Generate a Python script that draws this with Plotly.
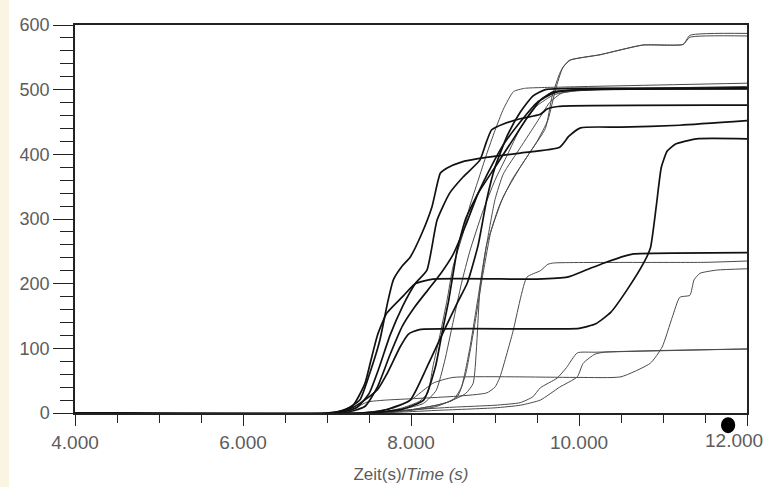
import plotly.graph_objects as go

# Cumulative counts over time, one curve per run (time in s, count)
p1_t = [4, 7.0, 7.2, 7.39, 7.51, 7.63, 7.72, 7.79, 7.9, 7.99, 8.13, 8.25, 8.35, 8.43, 8.6, 8.83, 9.3, 9.77, 9.88, 10.02, 10.5, 11.2, 12]
p1_v = [0, 0, 4, 20, 62, 113, 170, 206, 228, 241, 278, 319, 371, 379, 388, 394, 402, 411, 428, 441, 442, 445, 452]

p2_t = [4, 7.1, 7.35, 7.5, 7.62, 7.75, 7.9, 8.05, 8.19, 8.31, 8.46, 8.62, 8.82, 8.9, 8.96, 9.1, 9.3, 9.54, 9.62, 9.75, 12]
p2_v = [0, 0, 8, 30, 70, 120, 165, 200, 221, 298, 340, 365, 391, 420, 438, 447, 455, 462, 470, 474, 476]

k_t = [4, 7.05, 7.3, 7.45, 7.52, 7.6, 7.71, 7.9, 8.05, 8.26, 9.5, 9.86, 10.1, 10.3, 10.55, 10.65, 12]
k_v = [0, 0, 10, 45, 80, 120, 154, 180, 200, 207, 207, 210, 222, 232, 243, 246, 248]

o_t = [4, 7.1, 7.3, 7.5, 7.6, 7.72, 7.87, 7.97, 8.1, 9.5, 10.0, 10.2, 10.38, 10.57, 10.77, 10.85, 10.92, 10.98, 11.05, 11.15, 11.4, 12]
o_v = [0, 0, 8, 25, 36, 62, 102, 122, 129, 130, 131, 138, 156, 190, 232, 255, 320, 380, 405, 416, 424, 424]

r_t = [4, 7.4, 7.7, 7.99, 8.19, 8.38, 8.55, 8.67, 8.8, 8.9, 9.0, 9.15, 9.3, 9.45, 9.6, 10.0, 12]
r_v = [0, 0, 5, 20, 71, 124, 170, 201, 260, 329, 380, 430, 465, 490, 500, 502, 503]

s_t = [4, 7.5, 7.9, 8.15, 8.29, 8.37, 8.45, 8.55, 8.65, 8.8, 9.0, 9.2, 9.4, 9.55, 9.7, 10.0, 12]
s_v = [0, 0, 6, 20, 71, 124, 175, 252, 300, 340, 380, 420, 460, 485, 497, 500, 502]

w_t = [4, 7.2, 7.45, 7.6, 7.75, 7.9, 8.05, 8.2, 8.35, 8.5, 8.65, 8.8, 8.95, 9.1, 9.3, 9.5, 9.7, 10.0, 12]
w_v = [0, 0, 10, 40, 90, 135, 165, 190, 215, 245, 290, 340, 380, 415, 450, 480, 495, 500, 501]

q1_t = [4, 7.6, 7.9, 8.1, 8.2, 8.26, 8.35, 8.43, 8.5, 8.62, 8.7, 8.8, 8.9, 9.0, 9.1, 9.22, 9.35, 9.8, 12]
q1_v = [0, 0, 8, 18, 31, 71, 124, 175, 226, 278, 320, 360, 400, 437, 470, 497, 502, 504, 510]

q2_t = [4, 7.5, 7.9, 8.15, 8.3, 8.4, 8.5, 8.6, 8.7, 8.85, 9.0, 9.15, 9.3, 9.5, 9.7, 10.0, 12]
q2_v = [0, 0, 6, 15, 35, 80, 140, 200, 250, 310, 360, 400, 440, 475, 492, 499, 502]

t_t = [4, 7.6, 8.0, 8.4, 8.65, 8.74, 8.82, 8.9, 9.0, 9.1, 9.3, 9.5, 9.65, 9.8, 10.2, 12]
t_v = [0, 0, 5, 15, 30, 46, 190, 260, 330, 370, 410, 450, 480, 495, 500, 505]

u_t = [4, 7.5, 8.0, 8.3, 8.5, 8.6, 8.7, 8.8, 8.9, 9.0, 9.1, 9.3, 9.5, 9.63, 9.72, 9.81, 9.9, 10.25, 10.76, 11.24, 11.32, 12]
u_v = [0, 0, 5, 12, 20, 40, 100, 180, 260, 300, 335, 380, 420, 453, 500, 535, 546, 554, 569, 570, 581, 583]

v_t = [4, 7.5, 8.0, 8.3, 8.55, 8.65, 8.75, 8.85, 8.95, 9.05, 9.2, 9.4, 9.6, 9.68, 9.78, 9.88, 10.25, 10.76, 11.24, 11.32, 12]
v_v = [0, 0, 4, 10, 25, 60, 130, 210, 280, 320, 360, 400, 440, 490, 528, 545, 554, 569, 570, 584, 587]

l_t = [4, 7.2, 7.48, 7.7, 8.0, 8.55, 8.9, 9.0, 9.06, 9.21, 9.38, 9.54, 9.63, 9.7, 11.5, 12]
l_v = [0, 0, 17, 20, 22, 26, 31, 40, 56, 124, 210, 220, 230, 232, 233, 235]

m_t = [4, 7.4, 7.8, 8.0, 8.26, 8.5, 10.0, 10.5, 10.85, 10.99, 11.11, 11.2, 11.32, 11.37, 11.44, 11.64, 12]
m_v = [0, 0, 8, 20, 46, 55, 55, 56, 77, 102, 148, 179, 182, 206, 216, 221, 223]

n1_t = [4, 7.5, 8.0, 8.5, 9.0, 9.3, 9.45, 9.54, 9.74, 9.85, 9.98, 10.2, 12]
n1_v = [0, 0, 5, 9, 12, 16, 25, 39, 54, 70, 93, 94, 99]

n2_t = [4, 7.6, 8.3, 9.0, 9.3, 9.54, 9.77, 9.98, 10.05, 10.19, 10.3, 12]
n2_v = [0, 0, 4, 8, 12, 20, 40, 56, 77, 91, 94, 99]

# heavy runs drawn black and thicker, light runs in thin grey
heavy = [(p1_t, p1_v), (p2_t, p2_v), (k_t, k_v), (o_t, o_v), (r_t, r_v),
         (s_t, s_v), (w_t, w_v)]
light = [(q1_t, q1_v), (q2_t, q2_v), (t_t, t_v), (u_t, u_v), (v_t, v_v),
         (l_t, l_v), (m_t, m_v), (n1_t, n1_v), (n2_t, n2_v)]

x_tick_vals = [4, 6, 8, 10, 12]
x_tick_text = ["4.000", "6.000", "8.000", "10.000", ""]
x_last_label = "12.000"
y_tick_vals = [0, 100, 200, 300, 400, 500, 600]
y_tick_text = ["0", "100", "200", "300", "400", "500", "600"]

FONT = "Liberation Sans, Arial, sans-serif"
TEXT_GREY = "#5c5c5c"

fig = go.Figure()

for tt, vv in light:
    fig.add_trace(go.Scatter(x=tt, y=vv, mode="lines",
                             line=dict(color="#4a4a4a", width=1, shape="spline", smoothing=0.5),
                             hoverinfo="skip", showlegend=False))
for tt, vv in heavy:
    fig.add_trace(go.Scatter(x=tt, y=vv, mode="lines",
                             line=dict(color="#111111", width=1.7, shape="spline", smoothing=0.5),
                             hoverinfo="skip", showlegend=False))

fig.update_layout(
    width=765, height=487,
    margin=dict(l=75, r=18, t=25, b=74, autoexpand=False),
    paper_bgcolor="#ffffff", plot_bgcolor="#ffffff",
    xaxis=dict(
        range=[4, 12], showgrid=False, zeroline=False, automargin=False,
        tickmode="array", tickvals=x_tick_vals, ticktext=x_tick_text,
        ticks="outside", ticklen=11, tickwidth=1.2, tickcolor="#222222",
        minor=dict(dtick=0.5, ticks="outside", ticklen=8, tickwidth=1.2, tickcolor="#222222"),
        tickfont=dict(family=FONT, size=19, color=TEXT_GREY),
        ticklabelstandoff=0,
        showline=True, linecolor="#222222", linewidth=1.5, mirror=True,
        title=dict(text="Zeit(s)/<i>Time (s)</i>", standoff=17,
                   font=dict(family=FONT, size=17, color=TEXT_GREY)),
    ),
    yaxis=dict(
        range=[0, 600], showgrid=False, zeroline=False, automargin=False,
        tickmode="array", tickvals=y_tick_vals, ticktext=y_tick_text,
        ticks="outside", ticklen=20, tickwidth=1.2, tickcolor="#222222",
        minor=dict(dtick=20, ticks="outside", ticklen=13, tickwidth=1.2, tickcolor="#222222"),
        tickfont=dict(family=FONT, size=18, color=TEXT_GREY),
        showline=True, linecolor="#222222", linewidth=1.5, mirror=True,
    ),
    # last time label pulled inward so it stays on the page
    annotations=[dict(text=x_last_label, x=12, xref="x", xshift=-13,
                      y=-27 / 388, yref="paper", yanchor="middle", xanchor="center",
                      showarrow=False, font=dict(family=FONT, size=19, color=TEXT_GREY))],
    shapes=[
        # pale strip along the left page edge
        dict(type="rect", xref="paper", yref="paper",
             x0=-75 / 672, x1=-66 / 672, y0=-74 / 388, y1=1 + 25 / 388,
             fillcolor="#faf4e3", line=dict(width=0), layer="below"),
        # round black dot under the time axis near its end
        dict(type="circle", xref="x", yref="paper",
             x0=11.69, x1=11.86, y0=-0.052, y1=-0.011,
             fillcolor="#000000", line=dict(width=0)),
    ],
)

fig.write_html("out.html")
